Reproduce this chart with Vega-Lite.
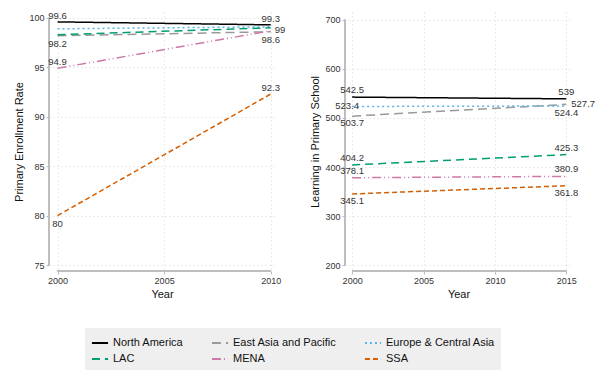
{
  "$schema": "https://vega.github.io/schema/vega-lite/v6.json",
  "background": "white",
  "padding": {"left": 13, "top": 10, "right": 5, "bottom": 5},
  "datasets": {
    "d": [
      {"panel": "enroll", "region": "North America", "year": 2000, "value": 99.6},
      {"panel": "enroll", "region": "North America", "year": 2010, "value": 99.3},
      {"panel": "enroll", "region": "East Asia and Pacific", "year": 2000, "value": 98.2},
      {"panel": "enroll", "region": "East Asia and Pacific", "year": 2010, "value": 98.6},
      {"panel": "enroll", "region": "Europe & Central Asia", "year": 2000, "value": 98.9},
      {"panel": "enroll", "region": "Europe & Central Asia", "year": 2010, "value": 99.1},
      {"panel": "enroll", "region": "LAC", "year": 2000, "value": 98.3},
      {"panel": "enroll", "region": "LAC", "year": 2010, "value": 99.0},
      {"panel": "enroll", "region": "MENA", "year": 2000, "value": 94.9},
      {"panel": "enroll", "region": "MENA", "year": 2010, "value": 98.7},
      {"panel": "enroll", "region": "SSA", "year": 2000, "value": 80.0},
      {"panel": "enroll", "region": "SSA", "year": 2010, "value": 92.3},
      {"panel": "learn", "region": "North America", "year": 2000, "value": 542.5},
      {"panel": "learn", "region": "North America", "year": 2015, "value": 539.0},
      {"panel": "learn", "region": "East Asia and Pacific", "year": 2000, "value": 503.7},
      {"panel": "learn", "region": "East Asia and Pacific", "year": 2015, "value": 527.7},
      {"panel": "learn", "region": "Europe & Central Asia", "year": 2000, "value": 523.4},
      {"panel": "learn", "region": "Europe & Central Asia", "year": 2015, "value": 524.4},
      {"panel": "learn", "region": "LAC", "year": 2000, "value": 404.2},
      {"panel": "learn", "region": "LAC", "year": 2015, "value": 425.3},
      {"panel": "learn", "region": "MENA", "year": 2000, "value": 378.1},
      {"panel": "learn", "region": "MENA", "year": 2015, "value": 380.9},
      {"panel": "learn", "region": "SSA", "year": 2000, "value": 345.1},
      {"panel": "learn", "region": "SSA", "year": 2015, "value": 361.8}
    ]
  },
  "config": {
    "font": "Liberation Sans",
    "view": {"stroke": null},
    "axis": {
      "domain": false,
      "tickColor": "#bdbdbd",
      "gridColor": "#d6d6d6",
      "gridDash": [1, 3],
      "labelFontSize": 9,
      "labelColor": "#333333",
      "titleFontSize": 11,
      "titleFontWeight": "normal",
      "titleColor": "#111111",
      "tickSize": 3
    },
    "axisX": {"titlePadding": 3},
    "legend": {
      "orient": "none",
      "legendX": 36,
      "legendY": 316,
      "direction": "horizontal",
      "columns": 3,
      "fillColor": "#efefef",
      "padding": 6,
      "symbolType": "stroke",
      "symbolSize": 260,
      "symbolStrokeWidth": 1.8,
      "labelFontSize": 11,
      "labelColor": "#111111",
      "columnPadding": 24,
      "rowPadding": 2,
      "title": null
    },
    "concat": {"spacing": 23}
  },
  "resolve": {"scale": {"color": "shared", "strokeDash": "shared"}},
  "hconcat": [
    {
      "width": 226,
      "height": 259,
      "data": {"name": "d"},
      "transform": [{"filter": "datum.panel == 'enroll'"}],
      "encoding": {
        "x": {"field": "year", "type": "quantitative",
              "scale": {"domain": [1999.6, 2010.2], "nice": false, "zero": false},
              "axis": {"values": [2000, 2005, 2010], "format": "d", "title": "Year"}},
        "y": {"field": "value", "type": "quantitative",
              "scale": {"domain": [74.4, 100.6], "nice": false, "zero": false},
              "axis": {"values": [75, 80, 85, 90, 95, 100], "title": "Primary Enrollment Rate"}}
      },
      "layer": [
        {
          "mark": {"type": "rule", "color": "#bdbdbd", "strokeWidth": 1},
          "encoding": {"x": {"datum": 2000}, "x2": {"datum": 2010}, "y": {"datum": 74.4}}
        },
        {
          "mark": {"type": "rule", "color": "#bdbdbd", "strokeWidth": 1},
          "encoding": {"x": {"datum": 1999.6}, "y": {"datum": 75}, "y2": {"datum": 100}}
        },
        {
          "mark": {"type": "line", "strokeWidth": 1.5},
          "encoding": {
            "color": {"field": "region", "type": "nominal",
              "scale": {"domain": ["North America", "East Asia and Pacific", "Europe & Central Asia", "LAC", "MENA", "SSA"],
                        "range": ["#000000", "#999999", "#56B4E9", "#009E73", "#CC79A7", "#D55E00"]}},
            "strokeDash": {"field": "region", "type": "nominal",
              "scale": {"domain": ["North America", "East Asia and Pacific", "Europe & Central Asia", "LAC", "MENA", "SSA"],
                        "range": [[1, 0], [9, 5], [2, 3], [8, 5], [9, 3, 1, 3, 1, 3], [5, 3]]}}
          }
        },
        {
          "transform": [{"filter": "(datum.year == 2000 && (datum.region == 'North America' || datum.region == 'MENA')) || (datum.year == 2010 && (datum.region == 'North America' || datum.region == 'SSA'))"}],
          "mark": {"type": "text", "baseline": "bottom", "dy": -1, "fontSize": 9.5, "color": "#333333"},
          "encoding": {"text": {"field": "value", "type": "quantitative", "format": ".1~f"}}
        },
        {
          "transform": [{"filter": "(datum.year == 2000 && (datum.region == 'East Asia and Pacific' || datum.region == 'SSA')) || (datum.year == 2010 && datum.region == 'East Asia and Pacific')"}],
          "mark": {"type": "text", "baseline": "top", "dy": 3, "fontSize": 9.5, "color": "#333333"},
          "encoding": {"text": {"field": "value", "type": "quantitative", "format": ".1~f"}}
        },
        {
          "transform": [{"filter": "datum.year == 2010 && datum.region == 'LAC'"}],
          "mark": {"type": "text", "align": "left", "baseline": "middle", "dx": 4, "dy": 2, "fontSize": 9.5, "color": "#333333"},
          "encoding": {"text": {"field": "value", "type": "quantitative", "format": ".1~f"}}
        }
      ]
    },
    {
      "width": 227,
      "height": 259,
      "data": {"name": "d"},
      "transform": [{"filter": "datum.panel == 'learn'"}],
      "encoding": {
        "x": {"field": "year", "type": "quantitative",
              "scale": {"domain": [1999.5, 2015.4], "nice": false, "zero": false},
              "axis": {"values": [2000, 2005, 2010, 2015], "format": "d", "title": "Year"}},
        "y": {"field": "value", "type": "quantitative",
              "scale": {"domain": [188, 716], "nice": false, "zero": false},
              "axis": {"values": [200, 300, 400, 500, 600, 700], "title": "Learning in Primary School"}}
      },
      "layer": [
        {
          "mark": {"type": "rule", "color": "#bdbdbd", "strokeWidth": 1},
          "encoding": {"x": {"datum": 2000}, "x2": {"datum": 2015}, "y": {"datum": 188}}
        },
        {
          "mark": {"type": "rule", "color": "#bdbdbd", "strokeWidth": 1},
          "encoding": {"x": {"datum": 1999.5}, "y": {"datum": 200}, "y2": {"datum": 700}}
        },
        {
          "mark": {"type": "line", "strokeWidth": 1.5},
          "encoding": {
            "color": {"field": "region", "type": "nominal"},
            "strokeDash": {"field": "region", "type": "nominal"}
          }
        },
        {
          "transform": [{"filter": "(datum.year == 2000 && (datum.region == 'North America' || datum.region == 'LAC' || datum.region == 'MENA')) || (datum.year == 2015 && (datum.region == 'North America' || datum.region == 'LAC' || datum.region == 'MENA'))"}],
          "mark": {"type": "text", "baseline": "bottom", "dy": -2, "fontSize": 9.5, "color": "#333333"},
          "encoding": {"text": {"field": "value", "type": "quantitative", "format": ".1~f"}}
        },
        {
          "transform": [{"filter": "(datum.year == 2000 && (datum.region == 'East Asia and Pacific' || datum.region == 'SSA')) || (datum.year == 2015 && (datum.region == 'Europe & Central Asia' || datum.region == 'SSA'))"}],
          "mark": {"type": "text", "baseline": "top", "dy": 2, "fontSize": 9.5, "color": "#333333"},
          "encoding": {"text": {"field": "value", "type": "quantitative", "format": ".1~f"}}
        },
        {
          "transform": [{"filter": "datum.year == 2000 && datum.region == 'Europe & Central Asia'"}],
          "mark": {"type": "text", "align": "center", "baseline": "middle", "dx": -5, "fontSize": 9.5, "color": "#333333"},
          "encoding": {"text": {"field": "value", "type": "quantitative", "format": ".1~f"}}
        },
        {
          "transform": [{"filter": "datum.year == 2015 && datum.region == 'East Asia and Pacific'"}],
          "mark": {"type": "text", "align": "left", "baseline": "middle", "dx": 5, "fontSize": 9.5, "color": "#333333"},
          "encoding": {"text": {"field": "value", "type": "quantitative", "format": ".1~f"}}
        }
      ]
    }
  ]
}
